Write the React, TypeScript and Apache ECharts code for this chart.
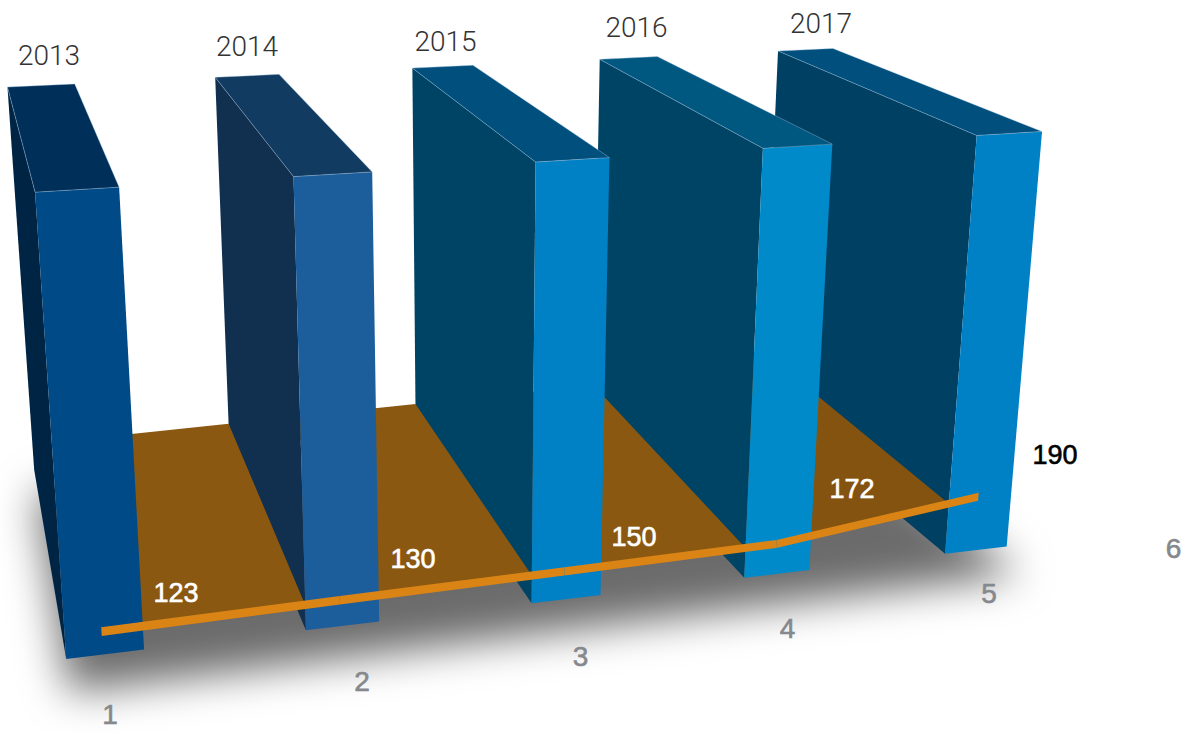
import React, { useEffect, useRef } from "react";
import * as echarts from "echarts";

const W = 1195, H = 732;
const years = ["2013", "2014", "2015", "2016", "2017"];
const tickLabels = ["1", "2", "3", "4", "5", "6"];
const barLevels = [100, 100, 100, 100, 100];
const lineLabels = [123, 130, 150, 172, 190];
const linePlotted = [5.3, 6.1, 6.8, 7.5, 13.6];

const BW = 0.318;
const XMIN = -0.5, XMAX = 5.5;
const YMIN = -20, YMAX = 100;
const LINE_SHIFT = -0.01;
const AREA_BACK_LIFT = 1.8;

// Camera of the perspective view: world (slot, depth, height 0..1) to screen.
const P = [
  2.480844e2, -2.376474e1, -3.344429e1, 1.053307e2,
  -8.895671, -7.653779e1, -4.779297e2, 6.54218e2,
  3.115824e-2, 2.373988e-1, -7.045762e-2,
];
const project = (s: number, d: number, h: number): [number, number] => {
  const w = P[8] * s + P[9] * d + P[10] * h + 1;
  return [(P[0] * s + P[1] * d + P[2] * h + P[3]) / w, (P[4] * s + P[5] * d + P[6] * h + P[7]) / w];
};

const faceColors = [
  { front: "#004a87", top: "#002f59", side: "#002544" },
  { front: "#1c5e9c", top: "#113b61", side: "#112f4f" },
  { front: "#0080c5", top: "#004f7c", side: "#004465" },
  { front: "#008aca", top: "#005780", side: "#004465" },
  { front: "#0081c5", top: "#004f7c", side: "#004063" },
];
const yearSpots = [[49, 55], [247, 46.5], [445.5, 41.5], [636.5, 27], [821, 23]];
const tickSpots = [[110, 714], [362, 681], [580.5, 656], [787.5, 628], [989, 593], [1173.5, 548]];
const labelSpots = [[176, 592.5], [413, 559], [634, 537], [852, 489], [1055, 455]];
const labelColors = ["#fff", "#fff", "#fff", "#fff", "#000"];

const App = () => {
  const ref = useRef<HTMLDivElement>(null);
  useEffect(() => {
    const chart = echarts.init(ref.current!, null, { renderer: "svg" });
    const at = (api: any, slot: number, level: number, depth: number) => {
      const c = api.coord([slot, level]);
      const s = XMIN + (c[0] / W) * (XMAX - XMIN);
      const h = (YMIN + ((H - c[1]) / H) * (YMAX - YMIN)) / 100;
      return project(s, depth, h);
    };
    const poly = (points: number[][], fill: string, z2: number, extra: any = {}) => ({
      type: "polygon", z2, shape: { points }, style: { fill, ...extra }, silent: true,
    });
    const txt = (text: string, x: number, y: number, size: number, family: string, weight: number, fill: string, thick = 0) => ({
      type: "text", z2: 70, x, y, silent: true,
      style: {
        text, fontSize: size, fontWeight: weight, fontFamily: family, fill,
        align: "center", verticalAlign: "middle",
        ...(thick ? { stroke: fill, lineWidth: thick } : {}),
      },
    });
    const edge = { stroke: "rgba(175,205,235,0.55)", lineWidth: 0.7 };
    const option: any = {
      animation: false,
      grid: { left: 0, right: 0, top: 0, bottom: 0 },
      xAxis: { type: "value", min: XMIN, max: XMAX, show: false },
      yAxis: { type: "value", min: YMIN, max: YMAX, show: false },
      series: [
        {
          type: "custom", name: "Shadow", coordinateSystem: "cartesian2d", silent: true, data: [[0, 0]],
          renderItem: (_: any, api: any) => {
            // The body sits below the canvas; only its blurred drop shadow lands in view.
            const D = 400;
            const L = -BW / 2, R = 4 + BW / 2 + 0.05;
            const pts = [at(api, L, -6.5, 1), at(api, R, -6.5, 1), at(api, R, -6.5, -0.02), at(api, L, -6.5, -0.02)]
              .map((p) => [p[0], p[1] + D]);
            const spike = [pts[0][0], pts[0][1] + 1400];
            return poly([pts[0], spike, pts[0], pts[1], pts[2], pts[3]], "#000", 0, {
              shadowBlur: 42, shadowColor: "rgba(0,0,0,0.58)", shadowOffsetX: 0, shadowOffsetY: -D,
            });
          },
        },
        {
          type: "custom", name: "Bars", coordinateSystem: "cartesian2d", silent: true,
          data: barLevels.map((v, k) => [k, v]),
          renderItem: (_: any, api: any) => {
            const k = api.value(0), v = api.value(1), c = faceColors[k];
            const L = k - BW / 2, R = k + BW / 2, z = 10 * (5 - k);
            const FTL = at(api, L, v, 0), FTR = at(api, R, v, 0), FBL = at(api, L, 0, 0), FBR = at(api, R, 0, 0);
            const BTL = at(api, L, v, 1), BTR = at(api, R, v, 1), BBL = at(api, L, 0, 1);
            return {
              type: "group",
              children: [
                poly([BTL, FTL, FBL, BBL], c.side, z),
                poly([FTL, FTR, FBR, FBL], c.front, z),
                poly([BTL, BTR, FTR, FTL], c.top, z, edge),
                txt(years[k], yearSpots[k][0], yearSpots[k][1], 28, "Roboto", 300, "#333"),
              ],
            };
          },
        },
        {
          type: "custom", name: "Area", coordinateSystem: "cartesian2d", silent: true,
          data: linePlotted.slice(0, -1).map((v, k) => [k, v, linePlotted[k + 1]]),
          renderItem: (_: any, api: any) => {
            const k = api.value(0), a = api.value(1), b = api.value(2);
            const L = k + BW / 2, R = k + 1 - BW / 2;
            const lerp = (s: number) => a + (b - a) * (s - k);
            return poly(
              [
                at(api, L, lerp(L), 0), at(api, R, lerp(R), 0),
                at(api, R, lerp(R) + AREA_BACK_LIFT, 1), at(api, L, lerp(L) + AREA_BACK_LIFT, 1),
              ],
              k === 3 ? "#855310" : "#8b5811",
              10 * (5 - k) - 5,
            );
          },
        },
        {
          type: "custom", name: "Line", coordinateSystem: "cartesian2d", silent: true,
          data: linePlotted.map((v, k) => [k, v]),
          renderItem: (_: any, api: any) => {
            const k = api.value(0), v = api.value(1);
            const kids: any[] = [
              txt(String(lineLabels[k]), labelSpots[k][0], labelSpots[k][1], 27, "Liberation Sans", 400, labelColors[k], 0.6),
            ];
            if (k < linePlotted.length - 1) {
              const n = linePlotted[k + 1], t = 1.0, a = k + LINE_SHIFT, b = k + 1 + LINE_SHIFT;
              kids.unshift(poly([at(api, a, v + t, 0), at(api, b, n + t, 0), at(api, b, n - t, 0), at(api, a, v - t, 0)], "#da8416", 60));
            }
            return { type: "group", children: kids };
          },
        },
        {
          type: "custom", name: "Ticks", coordinateSystem: "cartesian2d", silent: true,
          data: tickLabels.map((_, k) => [k, 0]),
          renderItem: (_: any, api: any) => {
            const k = api.value(0);
            return txt(tickLabels[k], tickSpots[k][0], tickSpots[k][1], 28, "Liberation Sans", 400, "#85888c", 0.6);
          },
        },
      ],
    };
    chart.setOption(option);
    return () => chart.dispose();
  }, []);
  return <div ref={ref} style={{ position: "absolute", left: 0, top: 0, width: W, height: H }} />;
};
export default App;
